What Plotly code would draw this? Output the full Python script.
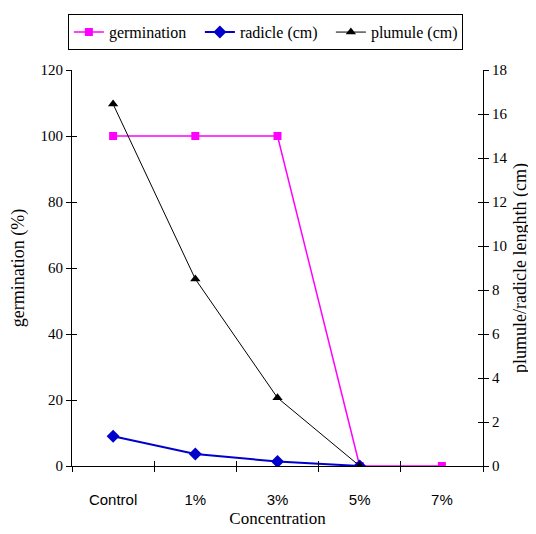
import plotly.graph_objects as go

categories = ["Control", "1%", "3%", "5%", "7%"]
germination = [100, 100, 100, 0, 0]
radicle = [1.35, 0.55, 0.2, 0, None]
plumule = [16.45, 8.5, 3.1, 0, None]

serif = "Liberation Serif"
sans = "Liberation Sans"

fig = go.Figure()
fig.add_trace(go.Scatter(x=categories, y=germination, name="germination", mode="lines+markers",
                         line=dict(color="#FF00FF", width=1.5),
                         marker=dict(symbol="square", size=8, color="#FF00FF"), yaxis="y"))
fig.add_trace(go.Scatter(x=categories, y=radicle, name="radicle (cm)", mode="lines+markers",
                         line=dict(color="#0000CC", width=2),
                         marker=dict(symbol="diamond", size=10, color="#0000CC"), yaxis="y2"))
fig.add_trace(go.Scatter(x=categories, y=plumule, name="plumule (cm)", mode="lines+markers",
                         line=dict(color="black", width=1),
                         marker=dict(symbol="triangle-up", size=9, color="black"), yaxis="y2"))

axis_common = dict(showgrid=False, zeroline=False, showline=True, linecolor="black", linewidth=1,
                   tickcolor="black", ticklen=5, automargin=False)

# page body adds an 8px offset, so the figure is 8px smaller and margins are shifted
fig.update_layout(
    width=528, height=526,
    margin=dict(l=64, r=53, t=62, b=68, autoexpand=False),
    paper_bgcolor="white", plot_bgcolor="white",
    font=dict(family=serif, size=15, color="black"),
    showlegend=True,
    legend=dict(orientation="h", x=-0.01, y=1.141, xanchor="left", yanchor="top",
                bordercolor="black", borderwidth=1, bgcolor="white",
                font=dict(family=serif, size=16, color="black"),
                itemwidth=30, tracegroupgap=0, entrywidth=86, entrywidthmode="pixels"),
    xaxis=dict(type="category", categoryorder="array", categoryarray=categories,
               range=[-0.5, 4.5], tickson="boundaries", ticks="outside",
               ticklabelstandoff=20,
               tickfont=dict(family=sans, size=15, color="black"),
               title=dict(text="Concentration", font=dict(family=serif, size=17, color="black"), standoff=5),
               **axis_common),
    xaxis2=dict(type="category", categoryorder="array", categoryarray=categories,
                range=[-0.5, 4.5], tickson="boundaries", ticks="inside", overlaying="x",
                side="bottom", showticklabels=False, anchor="y", matches="x",
                **axis_common),
    yaxis=dict(range=[0, 120], dtick=20, ticks="outside",
               tickfont=dict(family=serif, size=15, color="black"),
               title=dict(text="germination (%)", font=dict(family=serif, size=18, color="black"), standoff=12),
               **axis_common),
    yaxis3=dict(range=[0, 120], dtick=20, ticks="inside", overlaying="y", side="left",
                showticklabels=False, **axis_common),
    yaxis2=dict(range=[0, 18], dtick=2, ticks="outside", overlaying="y", side="right",
                tickfont=dict(family=serif, size=15, color="black"),
                title=dict(text="plumule/radicle lenghth (cm)", font=dict(family=serif, size=18, color="black"), standoff=6),
                **axis_common),
    yaxis4=dict(range=[0, 18], dtick=2, ticks="inside", overlaying="y", side="right",
                showticklabels=False, **axis_common),
)

# invisible traces that activate the extra tick axes
fig.add_trace(go.Scatter(x=[categories[0]], y=[None], xaxis="x2", yaxis="y3", showlegend=False, hoverinfo="skip"))
fig.add_trace(go.Scatter(x=[categories[0]], y=[None], xaxis="x2", yaxis="y4", showlegend=False, hoverinfo="skip"))

fig.write_html("out.html")
